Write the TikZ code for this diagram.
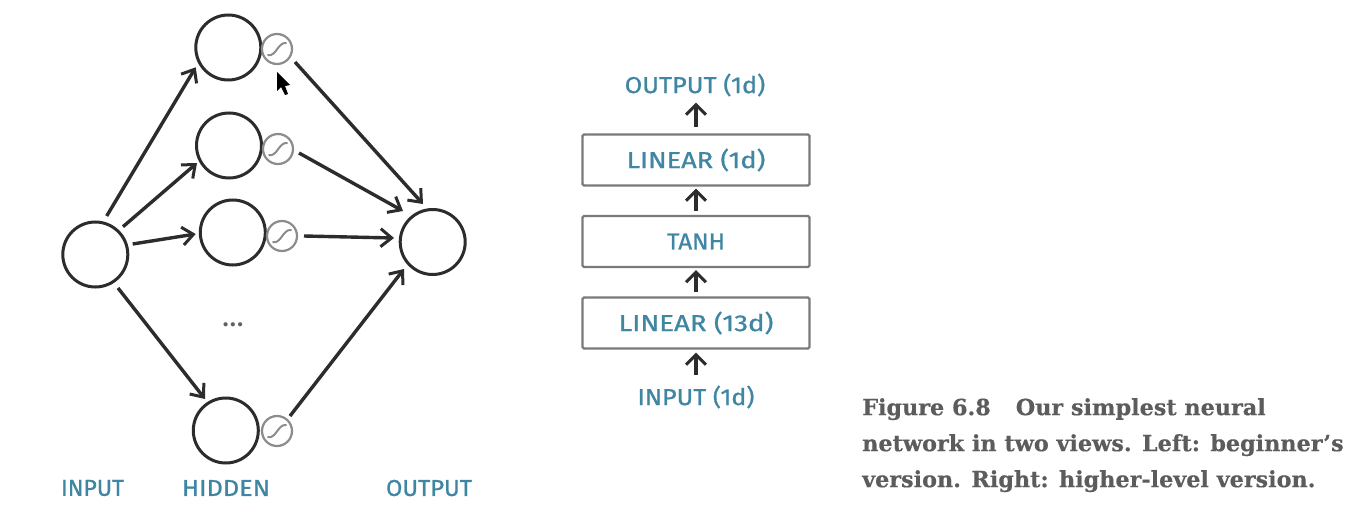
\documentclass[tikz,border=0pt]{standalone}
\usepackage{fontspec}
\setmainfont{Fira Sans}
\newfontfamily\handfont{Fira Sans}[FakeBold=0.8]
\newfontfamily\capfont{DejaVu Serif}[BoldFeatures={FakeBold=0.4}]
\usetikzlibrary{arrows.meta}
\definecolor{handteal}{HTML}{3F86A3}
\definecolor{inkdark}{HTML}{2C2C2C}
\definecolor{boxgray}{HTML}{7A7A7A}
\definecolor{sigmagray}{HTML}{8C8C8C}
\definecolor{captiongray}{HTML}{5C5C5C}
\newcommand{\handtext}[2]{\scalebox{#1}[1]{#2}}
\tikzset{
  neuron/.style={circle,draw=inkdark,line width=3pt,minimum size=65pt,inner sep=0pt},
  activ/.style={circle,draw=sigmagray,line width=2.2pt,minimum size=30pt,inner sep=0pt},
  wire/.style={draw=inkdark,line width=3.4pt,-{Straight Barb[length=11pt,width=18pt,line width=3pt]}},
  stub/.style={draw=inkdark,line width=3.4pt,-{Straight Barb[length=10pt,width=20pt,line width=3pt]}},
  layerbox/.style={draw=boxgray,line width=2.2pt,rounded corners=1.5pt,minimum width=227pt,minimum height=51pt,inner sep=0pt},
  hand/.style={text=handteal,font=\handfont\fontsize{23}{25}\selectfont,inner sep=0pt},
  sline/.style={draw=sigmagray,line width=2pt,line cap=round},
}
\begin{document}
\begin{tikzpicture}[x=1pt,y=-1pt]
\useasboundingbox (0,0) rectangle (1359,508);
\fill[white] (0,0) rectangle (1359,508);
% left view
\node[neuron] (in) at (95.3,254.5) {};
\node[neuron] (h1) at (228.3,47.5) {};
\node[neuron] (h2) at (229,145.5) {};
\node[neuron] (h3) at (232.8,232.5) {};
\node[neuron] (h4) at (225.8,430.5) {};
\node[neuron] (out) at (432.7,242) {};
\node[activ] (s1) at (277,49) {};
\node[activ] (s2) at (278,149) {};
\node[activ] (s3) at (282,236) {};
\node[activ] (s4) at (277,431) {};
\foreach \s in {s1,s2,s3,s4}{
  \draw[sline] ([shift={(-9,6)}]\s.center) .. controls ([shift={(-1,8)}]\s.center) and ([shift={(1,-7)}]\s.center) .. ([shift={(9,-6)}]\s.center);
}
\draw[wire] ([shift={(11.4,-38.5)}]in.center) -- ([shift={(-32.6,19.8)}]h1.center);
\draw[wire] ([shift={(27.7,-27.8)}]in.center) -- ([shift={(-32,17.5)}]h2.center);
\draw[wire] ([shift={(37.4,-10.5)}]in.center) -- ([shift={(-37.1,1.5)}]h3.center);
\draw[wire] ([shift={(22.7,33.5)}]in.center) -- ([shift={(-20.8,-31.5)}]h4.center);
\draw[wire] ([shift={(18,13)}]s1.center) -- ([shift={(-9.7,-38)}]out.center);
\draw[wire] ([shift={(21,4)}]s2.center) -- ([shift={(-29.7,-31)}]out.center);
\draw[wire] ([shift={(22,0)}]s3.center) -- ([shift={(-38.7,-4)}]out.center);
\draw[wire] ([shift={(13,-15)}]s4.center) -- ([shift={(-28.7,27)}]out.center);
\node[text=inkdark!75,font=\fontsize{30}{30}\selectfont,inner sep=0pt] (dots) at (233,325) {...};
\node[hand] (linput) at (92.5,488) {\handtext{1.0}{INPUT}};
\node[hand] (lhidden) at (226,488) {\handtext{1.1}{HIDDEN}};
\node[hand] (loutput) at (429,488) {\handtext{1.03}{OUTPUT}};
% cursor
\fill[black] (277,72) -- (277,91) -- (281,87) -- (285,95) -- (288,94) -- (285,86) -- (290,85) -- cycle;
% right view
\node[layerbox,hand] (b1) at (696,160) {\handtext{1.18}{LINEAR (1d)}};
\node[layerbox,hand] (b2) at (696,241.5) {\handtext{1.05}{TANH}};
\node[layerbox,hand] (b3) at (696,323) {\handtext{1.2}{LINEAR (13d)}};
\node[hand] (o) at (695,85) {\handtext{1.1}{OUTPUT (1d)}};
\node[hand] (i) at (696,397) {\handtext{1.09}{INPUT (1d)}};
\draw[stub] ([yshift=6pt]b1.north) -- ([yshift=-6pt]b1.north |- o.south);
\draw[stub] ([yshift=4pt]b2.north) -- ([yshift=-2pt]b1.south);
\draw[stub] ([yshift=4pt]b3.north) -- ([yshift=-2pt]b2.south);
\draw[stub] ([yshift=10pt]b3.south |- i.north) -- ([yshift=-3pt]b3.south);
% caption
\node[anchor=north west,inner sep=0pt,text=captiongray,align=left,font=\capfont\bfseries\fontsize{22.3}{36}\selectfont] (cap) at (862,398)
{Figure 6.8\hspace{25pt}Our simplest neural\\network in two views. Left: beginner’s\\version. Right: higher-level version.};
\end{tikzpicture}
\end{document}
